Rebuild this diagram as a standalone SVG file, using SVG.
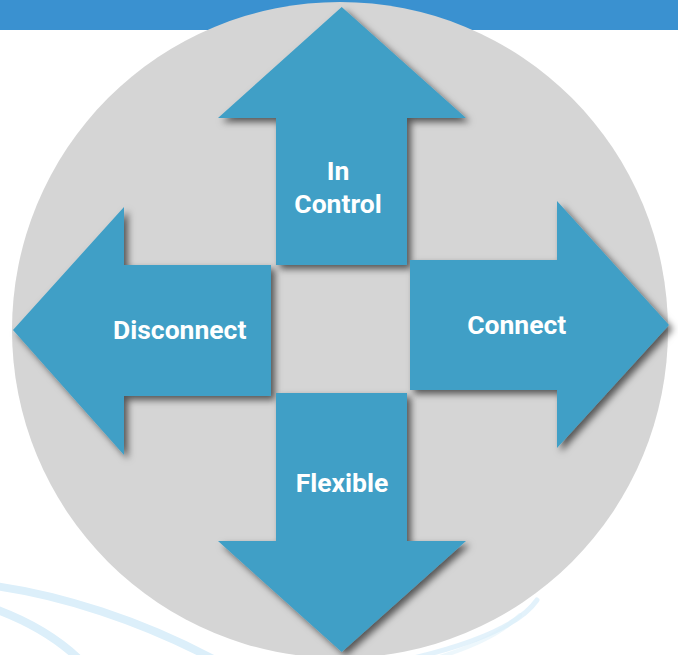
<svg xmlns="http://www.w3.org/2000/svg" width="678" height="655" viewBox="0 0 678 655">
<defs>
<style>
.arrow{fill:#409FC6;filter:url(#sh);}
.lbl{font-family:Roboto,"Liberation Sans",sans-serif;font-weight:bold;font-size:26.5px;fill:#FFFFFF;text-anchor:middle;}
.swirl{fill:none;stroke:#DCEFFA;stroke-linecap:round;}
</style>
<filter id="sh" x="-10%" y="-10%" width="125%" height="125%">
<feDropShadow dx="4" dy="4" stdDeviation="3.5" flood-color="#000" flood-opacity="0.6"/>
</filter>
</defs>
<rect x="0" y="0" width="678" height="655" fill="#FFFFFF"/>
<rect x="0" y="0" width="678" height="30" fill="#3A91D0"/>
<g id="swirls">
<path class="swirl" stroke-width="8" d="M-5,586 C60,595 140,620 215,660"/>
<path class="swirl" stroke-width="8" d="M-5,609 C25,620 55,636 80,660"/>
<path class="swirl" stroke-width="5" d="M537,600 C520,625 470,645 405,660" opacity="0.8"/>
<path class="swirl" stroke-width="4" d="M520,615 C500,635 470,648 430,660" opacity="0.5"/>
</g>
<circle id="bg-circle" cx="340" cy="330" r="328" fill="#D5D5D5"/>
<g id="node-in-control">
<polygon class="arrow" points="341.7,7 466,118 407,118 407,265 276,265 276,118 218,118"/>
<text class="lbl" x="338" y="180">In</text>
<text class="lbl" x="338" y="213.3">Control</text>
</g>
<g id="node-disconnect">
<polygon class="arrow" points="13,330 124,207 124,265 271,265 271,396 124,396 124,455"/>
<text class="lbl" x="179.7" y="339.3">Disconnect</text>
</g>
<g id="node-connect">
<polygon class="arrow" points="669,325 557,448 557,390 410,390 410,260 557,260 557,201"/>
<text class="lbl" x="516.7" y="334.3">Connect</text>
</g>
<g id="node-flexible">
<polygon class="arrow" points="341.7,652 218,541 276,541 276,393 407,393 407,541 466,541"/>
<text class="lbl" x="342" y="492.3">Flexible</text>
</g>
</svg>
